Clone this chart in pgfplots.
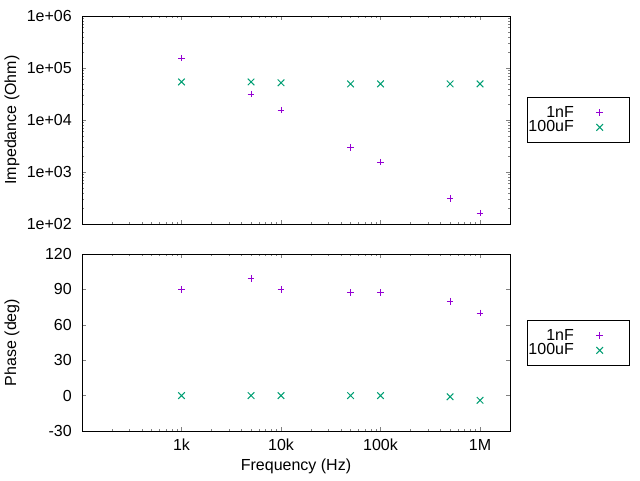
\documentclass[border=0pt]{standalone}
\usepackage{fontspec}
\setmainfont{Liberation Sans}
\usepackage{pgfplots}
\pgfplotsset{compat=1.18}
\definecolor{gpurple}{RGB}{148,0,211}
\definecolor{gteal}{RGB}{0,158,115}
\begin{document}
\begin{tikzpicture}[font=\fontsize{12}{12}\selectfont]
\path[use as bounding box] (0,0) rectangle (480pt,360pt);
\begin{axis}[at={(61.5pt,192pt)}, anchor=south west,
  scale only axis, width=321pt, height=156pt,
  xmode=log, xmin=100, xmax=2e6,
  ymode=log, ymin=100, ymax=1e6,
  /pgf/number format/assume math mode=true,
  tick align=inside, major tick length=3pt, minor tick length=1.6pt,
  axis line style={line width=0.75pt},
  xtick={100,1000,10000,100000,1000000},
  minor xtick={200,300,400,500,600,700,800,900,2000,3000,4000,5000,6000,7000,8000,9000,20000,30000,40000,50000,60000,70000,80000,90000,200000,300000,400000,500000,600000,700000,800000,900000,2000000},
  ytick={100,1000,10000,100000,1000000},
  yticklabels={1e+02,1e+03,1e+04,1e+05,1e+06},
  minor ytick={200,300,400,500,600,700,800,900,2000,3000,4000,5000,6000,7000,8000,9000,20000,30000,40000,50000,60000,70000,80000,90000,200000,300000,400000,500000,600000,700000,800000,900000},
  xticklabels={},
  yticklabel style={anchor=east, inner sep=0pt, xshift=-7.5pt},
  ylabel={Impedance (Ohm)},
  ylabel style={at={(axis description cs:-0.1636,0.5)}, anchor=center},
  legend plot pos=right,
  legend cell align=right,
  legend style={at={(axis description cs:1.0397,0.6106)}, anchor=north west,
    draw=black, line width=0.75pt, inner xsep=0.75pt, inner ysep=6.6pt, row sep=1.1pt,
    nodes={inner sep=0pt}},
]
\addplot[only marks, mark=+, color=gpurple, mark size=2.5pt, mark options={line width=0.75pt},
  legend image code/.code={\path (0pt,0pt) (40pt,0pt); \draw[gpurple, line width=0.75pt, mark size=2.5pt] plot[only marks, mark=+] coordinates {(19pt,0pt)};}]
  coordinates {(1000,1.55e5) (5000,3.15e4) (10000,1.55e4) (50000,3.0e3) (100000,1.55e3) (500000,305) (1000000,162)};
\addlegendentry{1nF}
\addplot[only marks, mark=x, color=gteal, mark size=3.5pt, mark options={line width=0.75pt},
  legend image code/.code={\path (0pt,0pt) (40pt,0pt); \draw[gteal, line width=0.75pt, mark size=3.5pt] plot[only marks, mark=x] coordinates {(19pt,0pt)};}]
  coordinates {(1000,5.4e4) (5000,5.4e4) (10000,5.2e4) (50000,4.95e4) (100000,4.95e4) (500000,4.95e4) (1000000,4.95e4)};
\addlegendentry{100uF}
\end{axis}
\begin{axis}[at={(61.5pt,36.75pt)}, anchor=south west,
  scale only axis, width=321pt, height=132.75pt,
  xmode=log, xmin=100, xmax=2e6,
  ymin=-30, ymax=120, ytick={-30,0,30,60,90,120},
  /pgf/number format/assume math mode=true,
  tick align=inside, major tick length=3pt, minor tick length=1.6pt,
  axis line style={line width=0.75pt},
  xtick={100,1000,10000,100000,1000000},
  minor xtick={200,300,400,500,600,700,800,900,2000,3000,4000,5000,6000,7000,8000,9000,20000,30000,40000,50000,60000,70000,80000,90000,200000,300000,400000,500000,600000,700000,800000,900000,2000000},
  xticklabels={,1k,10k,100k,1M},
  yticklabel style={anchor=east, inner sep=0pt, xshift=-7.5pt},
  xticklabel style={anchor=north, inner sep=0pt, yshift=-6pt},
  xlabel={Frequency (Hz)},
  xlabel style={at={(axis description cs:0.5,0)}, anchor=center, yshift=-26.25pt},
  ylabel={Phase (deg)},
  ylabel style={at={(axis description cs:-0.1636,0.5)}, anchor=center},
  legend plot pos=right,
  legend cell align=right,
  legend style={at={(axis description cs:1.0397,0.627)}, anchor=north west,
    draw=black, line width=0.75pt, inner xsep=0.75pt, inner ysep=6.6pt, row sep=1.1pt,
    nodes={inner sep=0pt}},
]
\addplot[only marks, mark=+, color=gpurple, mark size=2.5pt, mark options={line width=0.75pt},
  legend image code/.code={\path (0pt,0pt) (40pt,0pt); \draw[gpurple, line width=0.75pt, mark size=2.5pt] plot[only marks, mark=+] coordinates {(19pt,0pt)};}]
  coordinates {(1000,90) (5000,99.5) (10000,90) (50000,87.5) (100000,87.5) (500000,80) (1000000,70)};
\addlegendentry{1nF}
\addplot[only marks, mark=x, color=gteal, mark size=3.5pt, mark options={line width=0.75pt},
  legend image code/.code={\path (0pt,0pt) (40pt,0pt); \draw[gteal, line width=0.75pt, mark size=3.5pt] plot[only marks, mark=x] coordinates {(19pt,0pt)};}]
  coordinates {(1000,0) (5000,0) (10000,0) (50000,0) (100000,0) (500000,-1) (1000000,-4)};
\addlegendentry{100uF}
\end{axis}
\end{tikzpicture}
\end{document}
